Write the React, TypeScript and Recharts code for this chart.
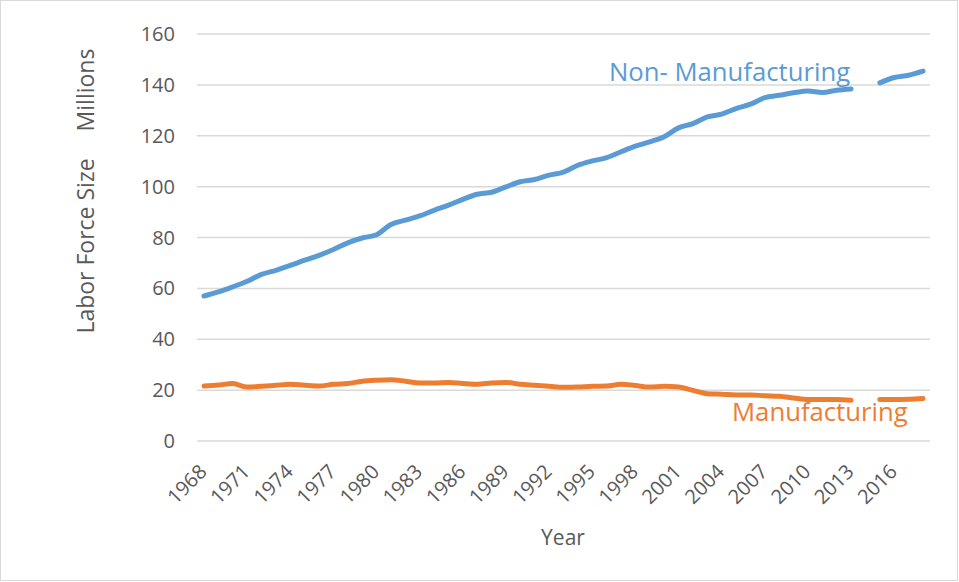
import { CartesianGrid, Line, LineChart, XAxis, YAxis } from "recharts";

const years = [
  "1968", "1969", "1970", "1971", "1972", "1973", "1974", "1975", "1976", "1977",
  "1978", "1979", "1980", "1981", "1982", "1983", "1984", "1985", "1986", "1987",
  "1988", "1989", "1990", "1991", "1992", "1993", "1994", "1995", "1996", "1997",
  "1998", "1999", "2000", "2001", "2002", "2003", "2004", "2005", "2006", "2007",
  "2008", "2009", "2010", "2011", "2012", "2013", "2014", "2015", "2016", "2017",
  "2018",
];

// millions, 2014 missing in the source
const nonManufacturing = [
  57.0, 58.6, 60.6, 62.8, 65.5, 67.1, 69.0, 71.1, 73.0, 75.3,
  77.9, 79.8, 81.1, 85.1, 86.8, 88.5, 90.7, 92.7, 95.0, 97.0,
  97.8, 99.9, 101.9, 102.8, 104.5, 105.7, 108.4, 110.1, 111.4, 113.7,
  115.9, 117.6, 119.6, 123.1, 124.8, 127.4, 128.5, 130.7, 132.4, 135.0,
  135.9, 136.9, 137.6, 137.0, 137.9, 138.4, null, 140.8, 142.9, 143.8,
  145.4,
];

const manufacturing = [
  21.6, 22.0, 22.6, 21.2, 21.5, 21.9, 22.3, 21.9, 21.6, 22.3,
  22.6, 23.5, 23.9, 24.1, 23.5, 22.8, 22.8, 23.0, 22.6, 22.3,
  22.8, 23.0, 22.3, 21.9, 21.5, 21.1, 21.2, 21.5, 21.6, 22.3,
  21.8, 21.2, 21.5, 21.2, 19.9, 18.6, 18.4, 18.1, 18.1, 17.8,
  17.6, 16.9, 16.3, 16.3, 16.3, 16.0, null, 16.3, 16.3, 16.4,
  16.7,
];

const yTicks = [0, 20, 40, 60, 80, 100, 120, 140, 160];

const data = years.map((year, i) => ({
  year,
  nonManufacturing: nonManufacturing[i],
  manufacturing: manufacturing[i],
}));

const FONT = "'Open Sans', 'Liberation Sans', sans-serif";
const GREY = "#595959";
const BLUE = "#5B9BD5";
const ORANGE = "#ED7D31";

function XTick(props: any) {
  const { x, y, payload } = props;
  const ax = x + 4;
  const ay = y + 24;
  return (
    <text
      x={ax}
      y={ay}
      textAnchor="end"
      fill={GREY}
      fontSize={20}
      fontFamily={FONT}
      transform={`rotate(-45 ${ax} ${ay})`}
    >
      {payload.value}
    </text>
  );
}

export default function App() {
  return (
    <div
      style={{
        position: "absolute",
        left: 0,
        top: 0,
        width: 959,
        height: 582,
        background: "#fff",
        fontFamily: FONT,
      }}
    >
      <div
        style={{
          position: "absolute",
          left: 0,
          top: 0,
          width: 956,
          height: 579,
          border: "1px solid #d9d9d9",
        }}
      />
      <LineChart
        width={959}
        height={582}
        data={data}
        margin={{ top: 34, right: 29, bottom: 31, left: 137 }}
      >
        <CartesianGrid vertical={false} stroke="#d9d9d9" strokeWidth={1.5} />
        <XAxis
          dataKey="year"
          interval={2}
          axisLine={false}
          tickLine={false}
          height={110}
          padding={{ left: 7, right: 7 }}
          tick={<XTick />}
        />
        <YAxis
          domain={[0, 160]}
          ticks={yTicks}
          width={60}
          axisLine={false}
          tickLine={false}
          tickSize={20}
          tickMargin={2}
          tick={{ fill: GREY, fontSize: 20, fontFamily: FONT }}
        />
        <Line
          type="monotone"
          dataKey="nonManufacturing"
          stroke={BLUE}
          strokeWidth={5}
          strokeLinecap="round"
          strokeLinejoin="round"
          dot={false}
          activeDot={false}
          isAnimationActive={false}
        />
        <Line
          type="monotone"
          dataKey="manufacturing"
          stroke={ORANGE}
          strokeWidth={5}
          strokeLinecap="round"
          strokeLinejoin="round"
          dot={false}
          activeDot={false}
          isAnimationActive={false}
        />
      </LineChart>
      <svg
        width={959}
        height={582}
        style={{ position: "absolute", left: 0, top: 0, pointerEvents: "none" }}
      >
        <text
          transform="rotate(-90 94 246)"
          x={94}
          y={246}
          textAnchor="middle"
          fill={GREY}
          fontSize={23}
          fontFamily={FONT}
        >
          Labor Force Size
        </text>
        <text
          transform="rotate(-90 94 90)"
          x={94}
          y={90}
          textAnchor="middle"
          fill={GREY}
          fontSize={23}
          fontFamily={FONT}
        >
          Millions
        </text>
        <text x={563} y={545} textAnchor="middle" fill={GREY} fontSize={21} fontFamily={FONT}>
          Year
        </text>
        <text x={609} y={81} fill={BLUE} fontSize={25.7} fontFamily={FONT}>
          Non- Manufacturing
        </text>
        <text x={732} y={421} fill={ORANGE} fontSize={25.7} fontFamily={FONT}>
          Manufacturing
        </text>
      </svg>
    </div>
  );
}
